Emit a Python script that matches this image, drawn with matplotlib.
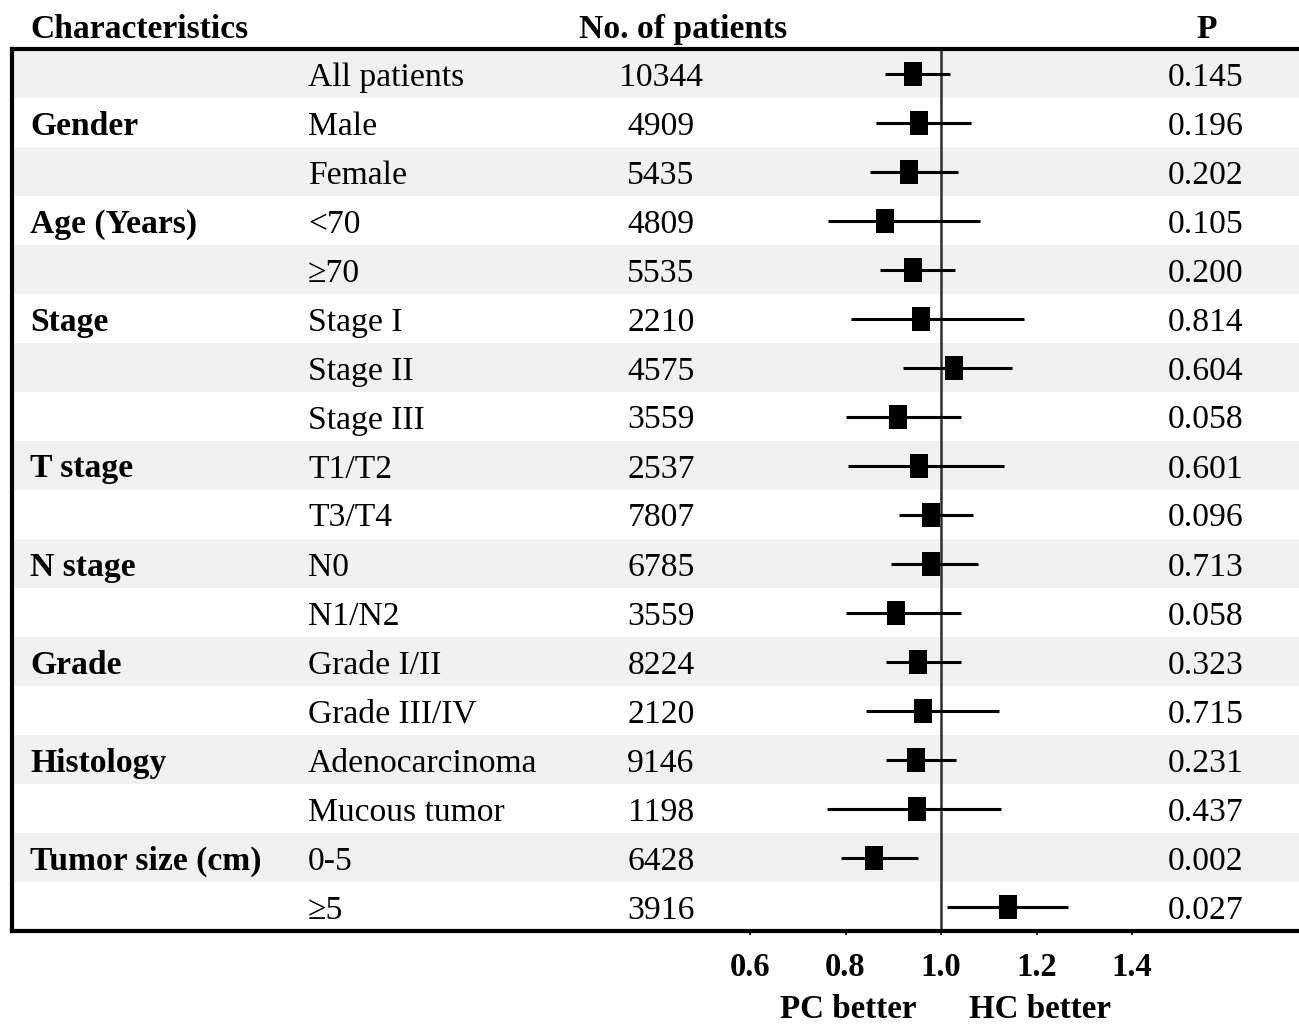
import numpy as np
import matplotlib.pyplot as plt

plt.rcParams['font.family'] = ['Liberation Serif', 'DejaVu Serif']

groups = ['', 'Gender', '', 'Age (Years)', '', 'Stage', '', '', 'T stage', '',
          'N stage', '', 'Grade', '', 'Histology', '', 'Tumor size (cm)', '']
subgroups = ['All patients', 'Male', 'Female', '<70', '\u226570', 'Stage I',
             'Stage II', 'Stage III', 'T1/T2', 'T3/T4', 'N0', 'N1/N2',
             'Grade I/II', 'Grade III/IV', 'Adenocarcinoma', 'Mucous tumor',
             '0-5', '\u22655']
patients = [10344, 4909, 5435, 4809, 5535, 2210, 4575, 3559, 2537, 7807,
            6785, 3559, 8224, 2120, 9146, 1198, 6428, 3916]
hr = [0.941, 0.954, 0.933, 0.883, 0.941, 0.958, 1.027, 0.910, 0.954, 0.979,
      0.979, 0.906, 0.952, 0.962, 0.948, 0.950, 0.860, 1.140]
lo = [0.883, 0.864, 0.851, 0.763, 0.872, 0.812, 0.920, 0.801, 0.805, 0.912,
      0.895, 0.801, 0.885, 0.843, 0.885, 0.761, 0.791, 1.013]
hi = [1.019, 1.063, 1.036, 1.082, 1.029, 1.174, 1.149, 1.042, 1.132, 1.067,
      1.077, 1.042, 1.042, 1.121, 1.031, 1.126, 0.952, 1.266]
pvals = ['0.145', '0.196', '0.202', '0.105', '0.200', '0.814', '0.604', '0.058',
         '0.601', '0.096', '0.713', '0.058', '0.323', '0.715', '0.231', '0.437',
         '0.002', '0.027']
ticks = [0.6, 0.8, 1.0, 1.2, 1.4]

W, H = 1299, 1026
fig = plt.figure(figsize=(W / 100, H / 100), dpi=100)

# frame in pixels, right edge runs off the picture
ax_l, ax_r, ax_t, ax_b = 12, 1312, 49, 931
ax = fig.add_axes([ax_l / W, 1 - ax_b / H, (ax_r - ax_l) / W, (ax_b - ax_t) / H])

px_unit = 477.5   # pixels per 1.0 of ratio
x_one = 941       # pixel of ratio 1.0
ax.set_xlim(1 + (ax_l - x_one) / px_unit, 1 + (ax_r - x_one) / px_unit)

n = len(hr)
rows = np.arange(1, n + 1)
ax.set_ylim(n + 0.5, 0.5)
row_px = (ax_b - ax_t) / n

for r in rows[::2]:
    ax.axhspan(r - 0.5, r + 0.5, color='#f1f1f1', lw=0, zorder=0)

ax.axvline(1.0, color='#2e2e2e', lw=1.8, zorder=1)
ax.hlines(rows, lo, hi, color='black', lw=2.2, zorder=2)
box = [(-0.39, -0.5), (0.39, -0.5), (0.39, 0.5), (-0.39, 0.5), (-0.39, -0.5)]
ax.plot(hr, rows, ls='none', marker=box, ms=16.8, mfc='black', mec='black',
        mew=0, zorder=3)

for s in ax.spines.values():
    s.set_linewidth(3)
    s.set_color('black')

fs = 24.2
ax.set_yticks([])
ax.set_xticks(ticks)
ax.set_xticklabels([f'{t:.1f}' for t in ticks], fontweight='bold')
ax.tick_params(axis='x', direction='out', length=3, width=1.2, pad=12,
               labelsize=23.5)

tr = ax.get_yaxis_transform()
base = 12 / row_px   # baseline sits this far below row centre


def fx(px):
    return (px - ax_l) / (ax_r - ax_l)


for r, g, sg, npat, p in zip(rows, groups, subgroups, patients, pvals):
    yb_ = r + base
    if g:
        ax.text(fx(30), yb_, g, transform=tr, ha='left', va='baseline',
                fontsize=fs, fontweight='bold')
    ax.text(fx(308), yb_, sg, transform=tr, ha='left', va='baseline', fontsize=fs)
    ax.text(fx(661), yb_, str(npat), transform=tr, ha='center', va='baseline',
            fontsize=fs)
    ax.text(fx(1206), yb_, p, transform=tr, ha='center', va='baseline',
            fontsize=fs)

yh = 0.5 - (ax_t - 38) / row_px
ax.text(fx(30), yh, 'Characteristics', transform=tr, ha='left', va='baseline',
        fontsize=fs, fontweight='bold', clip_on=False)
ax.text(fx(683), yh, 'No. of patients', transform=tr, ha='center',
        va='baseline', fontsize=fs, fontweight='bold', clip_on=False)
ax.text(fx(1207), yh, 'P', transform=tr, ha='center', va='baseline',
        fontsize=fs, fontweight='bold', clip_on=False)

yb = n + 0.5 + (1018 - ax_b) / row_px
ax.text(0.805, yb, 'PC better', ha='center', va='baseline',
        fontsize=23.8, fontweight='bold', clip_on=False)
ax.text(1.207, yb, 'HC better', ha='center', va='baseline',
        fontsize=23.8, fontweight='bold', clip_on=False)

fig.savefig('out.png', dpi=100)
